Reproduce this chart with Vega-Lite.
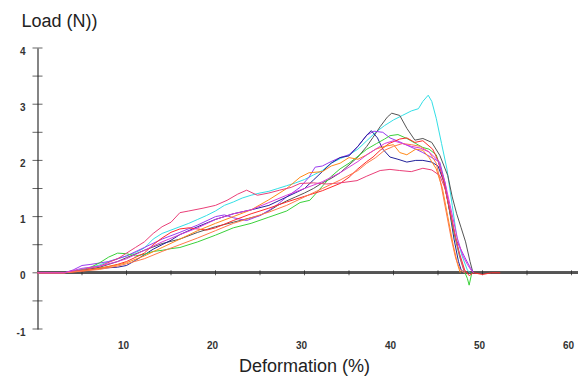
{
  "$schema": "https://vega.github.io/schema/vega-lite/v6.json",
  "autosize": {"type": "none"},
  "padding": {"left": 37.5, "top": 48, "right": 0, "bottom": 49},
  "width": 540.5,
  "height": 281,
  "background": "white",
  "config": {"view": {"stroke": null}, "font": "Liberation Sans"},
  "datasets": {
    "curves": [
      {"run":"cyan","x":0,"y":0},{"run":"cyan","x":3,"y":0},{"run":"cyan","x":4,"y":0.03},{"run":"cyan","x":5,"y":0.07},{"run":"cyan","x":6,"y":0.1},{"run":"cyan","x":7,"y":0.14},{"run":"cyan","x":8,"y":0.2},{"run":"cyan","x":9,"y":0.25},{"run":"cyan","x":10,"y":0.3},{"run":"cyan","x":11,"y":0.36},{"run":"cyan","x":12,"y":0.44},{"run":"cyan","x":13,"y":0.6},{"run":"cyan","x":14,"y":0.7},{"run":"cyan","x":15,"y":0.76},{"run":"cyan","x":16,"y":0.82},{"run":"cyan","x":17,"y":0.88},{"run":"cyan","x":18,"y":0.95},{"run":"cyan","x":19,"y":1.02},{"run":"cyan","x":20,"y":1.1},{"run":"cyan","x":21,"y":1.2},{"run":"cyan","x":22,"y":1.26},{"run":"cyan","x":23,"y":1.33},{"run":"cyan","x":24,"y":1.38},{"run":"cyan","x":25,"y":1.42},{"run":"cyan","x":26,"y":1.45},{"run":"cyan","x":27,"y":1.5},{"run":"cyan","x":28,"y":1.55},{"run":"cyan","x":29,"y":1.6},{"run":"cyan","x":30,"y":1.66},{"run":"cyan","x":31,"y":1.74},{"run":"cyan","x":32,"y":1.82},{"run":"cyan","x":33,"y":1.95},{"run":"cyan","x":34,"y":2.03},{"run":"cyan","x":35,"y":2.1},{"run":"cyan","x":36,"y":2.2},{"run":"cyan","x":37,"y":2.35},{"run":"cyan","x":38,"y":2.5},{"run":"cyan","x":39,"y":2.62},{"run":"cyan","x":40,"y":2.72},{"run":"cyan","x":41,"y":2.8},{"run":"cyan","x":42,"y":2.88},{"run":"cyan","x":42.8,"y":2.92},{"run":"cyan","x":43.3,"y":3.05},{"run":"cyan","x":43.9,"y":3.16},{"run":"cyan","x":44.3,"y":3.05},{"run":"cyan","x":44.8,"y":2.75},{"run":"cyan","x":45.4,"y":2.3},{"run":"cyan","x":46,"y":1.85},{"run":"cyan","x":46.6,"y":1.2},{"run":"cyan","x":47.1,"y":0.65},{"run":"cyan","x":47.7,"y":0.3},{"run":"cyan","x":48.3,"y":0.05},{"run":"cyan","x":48.6,"y":0},

      {"run":"gray","x":0,"y":0},{"run":"gray","x":3,"y":0},{"run":"gray","x":5,"y":0.04},{"run":"gray","x":7,"y":0.1},{"run":"gray","x":9,"y":0.2},{"run":"gray","x":10,"y":0.27},{"run":"gray","x":12,"y":0.4},{"run":"gray","x":14,"y":0.52},{"run":"gray","x":16,"y":0.6},{"run":"gray","x":18,"y":0.72},{"run":"gray","x":20,"y":0.82},{"run":"gray","x":22,"y":0.9},{"run":"gray","x":24,"y":0.98},{"run":"gray","x":25,"y":1.02},{"run":"gray","x":26,"y":1.1},{"run":"gray","x":27,"y":1.2},{"run":"gray","x":28,"y":1.28},{"run":"gray","x":29,"y":1.35},{"run":"gray","x":30,"y":1.42},{"run":"gray","x":31,"y":1.5},{"run":"gray","x":32,"y":1.6},{"run":"gray","x":33,"y":1.68},{"run":"gray","x":34,"y":1.78},{"run":"gray","x":35,"y":1.92},{"run":"gray","x":36,"y":2.06},{"run":"gray","x":37,"y":2.25},{"run":"gray","x":37.7,"y":2.41},{"run":"gray","x":38.5,"y":2.6},{"run":"gray","x":39.3,"y":2.77},{"run":"gray","x":39.8,"y":2.84},{"run":"gray","x":40.7,"y":2.8},{"run":"gray","x":41.5,"y":2.57},{"run":"gray","x":42.4,"y":2.36},{"run":"gray","x":43.3,"y":2.39},{"run":"gray","x":44.3,"y":2.32},{"run":"gray","x":45.2,"y":2.09},{"run":"gray","x":46.1,"y":1.73},{"run":"gray","x":46.6,"y":1.35},{"run":"gray","x":47.1,"y":1.05},{"run":"gray","x":47.6,"y":0.8},{"run":"gray","x":48.1,"y":0.55},{"run":"gray","x":48.6,"y":0.2},{"run":"gray","x":48.9,"y":0.02},{"run":"gray","x":49.1,"y":0},

      {"run":"violet","x":0,"y":0},{"run":"violet","x":3,"y":0},{"run":"violet","x":4,"y":0.05},{"run":"violet","x":5,"y":0.13},{"run":"violet","x":6,"y":0.15},{"run":"violet","x":8,"y":0.2},{"run":"violet","x":10,"y":0.3},{"run":"violet","x":12,"y":0.45},{"run":"violet","x":14,"y":0.6},{"run":"violet","x":16,"y":0.72},{"run":"violet","x":18,"y":0.85},{"run":"violet","x":20,"y":1.0},{"run":"violet","x":21,"y":1.03},{"run":"violet","x":22,"y":0.98},{"run":"violet","x":23.5,"y":0.93},{"run":"violet","x":25,"y":1.02},{"run":"violet","x":26,"y":1.11},{"run":"violet","x":27,"y":1.22},{"run":"violet","x":28,"y":1.35},{"run":"violet","x":29.5,"y":1.52},{"run":"violet","x":30.5,"y":1.7},{"run":"violet","x":31.2,"y":1.88},{"run":"violet","x":32,"y":1.9},{"run":"violet","x":33,"y":1.98},{"run":"violet","x":34,"y":2.05},{"run":"violet","x":35,"y":2.1},{"run":"violet","x":36,"y":2.25},{"run":"violet","x":37,"y":2.45},{"run":"violet","x":37.8,"y":2.52},{"run":"violet","x":38.8,"y":2.5},{"run":"violet","x":39.6,"y":2.4},{"run":"violet","x":40.7,"y":2.33},{"run":"violet","x":41.5,"y":2.27},{"run":"violet","x":42.5,"y":2.2},{"run":"violet","x":43.3,"y":2.14},{"run":"violet","x":44.3,"y":2.05},{"run":"violet","x":45.2,"y":1.97},{"run":"violet","x":45.8,"y":1.6},{"run":"violet","x":46.3,"y":1.1},{"run":"violet","x":47,"y":0.6},{"run":"violet","x":48,"y":0.28},{"run":"violet","x":48.6,"y":0.1},{"run":"violet","x":49,"y":0},

      {"run":"navy","x":0,"y":0},{"run":"navy","x":3,"y":0},{"run":"navy","x":5,"y":0.05},{"run":"navy","x":7,"y":0.08},{"run":"navy","x":9,"y":0.1},{"run":"navy","x":10,"y":0.13},{"run":"navy","x":11,"y":0.22},{"run":"navy","x":12,"y":0.32},{"run":"navy","x":13,"y":0.42},{"run":"navy","x":14,"y":0.5},{"run":"navy","x":15,"y":0.58},{"run":"navy","x":16,"y":0.68},{"run":"navy","x":18,"y":0.82},{"run":"navy","x":20,"y":0.95},{"run":"navy","x":22,"y":1.05},{"run":"navy","x":24,"y":1.12},{"run":"navy","x":26,"y":1.2},{"run":"navy","x":28,"y":1.35},{"run":"navy","x":30,"y":1.5},{"run":"navy","x":31,"y":1.65},{"run":"navy","x":32,"y":1.8},{"run":"navy","x":33,"y":1.95},{"run":"navy","x":34,"y":2.05},{"run":"navy","x":35,"y":2.08},{"run":"navy","x":36,"y":2.25},{"run":"navy","x":37,"y":2.45},{"run":"navy","x":37.5,"y":2.53},{"run":"navy","x":38.2,"y":2.4},{"run":"navy","x":38.8,"y":2.2},{"run":"navy","x":39.6,"y":2.06},{"run":"navy","x":40.5,"y":2.02},{"run":"navy","x":41.5,"y":1.97},{"run":"navy","x":42.5,"y":2.0},{"run":"navy","x":43.3,"y":2.0},{"run":"navy","x":44.3,"y":1.97},{"run":"navy","x":45,"y":1.9},{"run":"navy","x":45.7,"y":1.6},{"run":"navy","x":46.3,"y":1.1},{"run":"navy","x":46.8,"y":0.6},{"run":"navy","x":47.3,"y":0.2},{"run":"navy","x":47.6,"y":0.05},{"run":"navy","x":48,"y":0},

      {"run":"green","x":0,"y":0},{"run":"green","x":3,"y":0},{"run":"green","x":5,"y":0.05},{"run":"green","x":6,"y":0.1},{"run":"green","x":7,"y":0.18},{"run":"green","x":8,"y":0.28},{"run":"green","x":9,"y":0.35},{"run":"green","x":10,"y":0.34},{"run":"green","x":11,"y":0.3},{"run":"green","x":12,"y":0.33},{"run":"green","x":13,"y":0.38},{"run":"green","x":14,"y":0.4},{"run":"green","x":15,"y":0.43},{"run":"green","x":16,"y":0.45},{"run":"green","x":18,"y":0.55},{"run":"green","x":20,"y":0.67},{"run":"green","x":22,"y":0.8},{"run":"green","x":24,"y":0.88},{"run":"green","x":26,"y":0.99},{"run":"green","x":28,"y":1.1},{"run":"green","x":29.5,"y":1.25},{"run":"green","x":30.6,"y":1.29},{"run":"green","x":31.5,"y":1.45},{"run":"green","x":32.9,"y":1.7},{"run":"green","x":34,"y":1.85},{"run":"green","x":35,"y":1.95},{"run":"green","x":35.9,"y":2.06},{"run":"green","x":37,"y":2.2},{"run":"green","x":38.1,"y":2.3},{"run":"green","x":39,"y":2.38},{"run":"green","x":39.6,"y":2.44},{"run":"green","x":40.5,"y":2.46},{"run":"green","x":41.5,"y":2.39},{"run":"green","x":42.5,"y":2.3},{"run":"green","x":43.3,"y":2.23},{"run":"green","x":44,"y":2.2},{"run":"green","x":44.8,"y":2.1},{"run":"green","x":45.5,"y":1.75},{"run":"green","x":46.2,"y":1.2},{"run":"green","x":46.8,"y":0.7},{"run":"green","x":47.4,"y":0.3},{"run":"green","x":47.9,"y":0.05},{"run":"green","x":48.3,"y":-0.1},{"run":"green","x":48.5,"y":-0.22},{"run":"green","x":48.8,"y":0},

      {"run":"red","x":0,"y":0},{"run":"red","x":3,"y":0},{"run":"red","x":5,"y":0.03},{"run":"red","x":7,"y":0.08},{"run":"red","x":9,"y":0.15},{"run":"red","x":10,"y":0.2},{"run":"red","x":12,"y":0.35},{"run":"red","x":13,"y":0.5},{"run":"red","x":14,"y":0.62},{"run":"red","x":15,"y":0.72},{"run":"red","x":16,"y":0.78},{"run":"red","x":17,"y":0.8},{"run":"red","x":18,"y":0.78},{"run":"red","x":19,"y":0.76},{"run":"red","x":20,"y":0.8},{"run":"red","x":22,"y":0.93},{"run":"red","x":24,"y":1.05},{"run":"red","x":26,"y":1.15},{"run":"red","x":28,"y":1.26},{"run":"red","x":30,"y":1.36},{"run":"red","x":32,"y":1.46},{"run":"red","x":34,"y":1.59},{"run":"red","x":35,"y":1.7},{"run":"red","x":36,"y":1.85},{"run":"red","x":37,"y":1.98},{"run":"red","x":37.7,"y":2.06},{"run":"red","x":38.5,"y":2.18},{"run":"red","x":39.5,"y":2.3},{"run":"red","x":40.7,"y":2.38},{"run":"red","x":41.5,"y":2.4},{"run":"red","x":42.4,"y":2.32},{"run":"red","x":43.3,"y":2.35},{"run":"red","x":44.4,"y":2.2},{"run":"red","x":45,"y":2.0},{"run":"red","x":45.6,"y":1.65},{"run":"red","x":46.2,"y":1.2},{"run":"red","x":46.8,"y":0.75},{"run":"red","x":47.4,"y":0.35},{"run":"red","x":48,"y":0.05},{"run":"red","x":48.5,"y":-0.05},{"run":"red","x":49,"y":0},{"run":"red","x":50,"y":-0.03},{"run":"red","x":51,"y":0},{"run":"red","x":52,"y":0},

      {"run":"orange","x":0,"y":0},{"run":"orange","x":3,"y":0},{"run":"orange","x":5,"y":0.04},{"run":"orange","x":7,"y":0.08},{"run":"orange","x":9,"y":0.14},{"run":"orange","x":10,"y":0.18},{"run":"orange","x":12,"y":0.3},{"run":"orange","x":14,"y":0.45},{"run":"orange","x":16,"y":0.6},{"run":"orange","x":18,"y":0.75},{"run":"orange","x":20,"y":0.88},{"run":"orange","x":22,"y":1.0},{"run":"orange","x":24,"y":1.12},{"run":"orange","x":26,"y":1.3},{"run":"orange","x":28,"y":1.5},{"run":"orange","x":29.5,"y":1.7},{"run":"orange","x":30.5,"y":1.78},{"run":"orange","x":32,"y":1.8},{"run":"orange","x":33,"y":1.9},{"run":"orange","x":34,"y":1.95},{"run":"orange","x":35,"y":2.05},{"run":"orange","x":36,"y":2.02},{"run":"orange","x":37,"y":2.1},{"run":"orange","x":38,"y":2.2},{"run":"orange","x":39,"y":2.25},{"run":"orange","x":40,"y":2.28},{"run":"orange","x":40.7,"y":2.14},{"run":"orange","x":41.5,"y":2.1},{"run":"orange","x":42.5,"y":2.2},{"run":"orange","x":43.3,"y":2.18},{"run":"orange","x":44,"y":2.05},{"run":"orange","x":44.8,"y":1.85},{"run":"orange","x":45.5,"y":1.5},{"run":"orange","x":46.1,"y":1.0},{"run":"orange","x":46.7,"y":0.5},{"run":"orange","x":47.2,"y":0.15},{"run":"orange","x":47.5,"y":0},

      {"run":"pink","x":0,"y":0},{"run":"pink","x":3,"y":0},{"run":"pink","x":5,"y":0.05},{"run":"pink","x":7,"y":0.12},{"run":"pink","x":9,"y":0.25},{"run":"pink","x":10,"y":0.35},{"run":"pink","x":11,"y":0.45},{"run":"pink","x":12,"y":0.55},{"run":"pink","x":13,"y":0.7},{"run":"pink","x":14,"y":0.82},{"run":"pink","x":15,"y":0.9},{"run":"pink","x":16,"y":1.07},{"run":"pink","x":17,"y":1.1},{"run":"pink","x":18.6,"y":1.15},{"run":"pink","x":20,"y":1.2},{"run":"pink","x":21.3,"y":1.29},{"run":"pink","x":22.5,"y":1.4},{"run":"pink","x":23.5,"y":1.47},{"run":"pink","x":24.7,"y":1.38},{"run":"pink","x":26,"y":1.42},{"run":"pink","x":27.2,"y":1.47},{"run":"pink","x":28.5,"y":1.52},{"run":"pink","x":29.5,"y":1.59},{"run":"pink","x":31,"y":1.6},{"run":"pink","x":32.5,"y":1.58},{"run":"pink","x":34,"y":1.6},{"run":"pink","x":35.9,"y":1.64},{"run":"pink","x":37,"y":1.72},{"run":"pink","x":38.5,"y":1.82},{"run":"pink","x":39.6,"y":1.84},{"run":"pink","x":40.7,"y":1.82},{"run":"pink","x":42,"y":1.8},{"run":"pink","x":43.3,"y":1.86},{"run":"pink","x":44.3,"y":1.83},{"run":"pink","x":45.2,"y":1.73},{"run":"pink","x":45.8,"y":1.5},{"run":"pink","x":46.4,"y":1.1},{"run":"pink","x":47,"y":0.6},{"run":"pink","x":47.6,"y":0.2},{"run":"pink","x":48,"y":0},

      {"run":"salmon","x":0,"y":0},{"run":"salmon","x":3,"y":0},{"run":"salmon","x":5,"y":0.03},{"run":"salmon","x":7,"y":0.06},{"run":"salmon","x":9,"y":0.12},{"run":"salmon","x":10,"y":0.16},{"run":"salmon","x":12,"y":0.25},{"run":"salmon","x":14,"y":0.38},{"run":"salmon","x":16,"y":0.5},{"run":"salmon","x":18,"y":0.62},{"run":"salmon","x":20,"y":0.75},{"run":"salmon","x":22,"y":0.88},{"run":"salmon","x":24,"y":0.98},{"run":"salmon","x":26,"y":1.08},{"run":"salmon","x":28,"y":1.2},{"run":"salmon","x":30,"y":1.35},{"run":"salmon","x":32,"y":1.5},{"run":"salmon","x":34,"y":1.65},{"run":"salmon","x":36,"y":1.82},{"run":"salmon","x":37,"y":1.95},{"run":"salmon","x":38,"y":2.05},{"run":"salmon","x":39,"y":2.18},{"run":"salmon","x":40,"y":2.25},{"run":"salmon","x":41,"y":2.3},{"run":"salmon","x":42,"y":2.28},{"run":"salmon","x":43,"y":2.25},{"run":"salmon","x":44,"y":2.15},{"run":"salmon","x":44.8,"y":1.95},{"run":"salmon","x":45.3,"y":1.6},{"run":"salmon","x":45.9,"y":1.1},{"run":"salmon","x":46.5,"y":0.6},{"run":"salmon","x":47,"y":0.25},{"run":"salmon","x":47.5,"y":0.05},{"run":"salmon","x":48,"y":0},

      {"run":"magenta","x":0,"y":0},{"run":"magenta","x":3,"y":0},{"run":"magenta","x":5,"y":0.08},{"run":"magenta","x":7,"y":0.12},{"run":"magenta","x":9,"y":0.2},{"run":"magenta","x":10,"y":0.25},{"run":"magenta","x":12,"y":0.4},{"run":"magenta","x":14,"y":0.55},{"run":"magenta","x":16,"y":0.68},{"run":"magenta","x":18,"y":0.8},{"run":"magenta","x":20,"y":0.95},{"run":"magenta","x":22,"y":1.05},{"run":"magenta","x":24,"y":1.12},{"run":"magenta","x":26,"y":1.25},{"run":"magenta","x":28,"y":1.38},{"run":"magenta","x":30,"y":1.5},{"run":"magenta","x":32,"y":1.62},{"run":"magenta","x":34,"y":1.78},{"run":"magenta","x":36,"y":1.98},{"run":"magenta","x":37,"y":2.1},{"run":"magenta","x":38,"y":2.2},{"run":"magenta","x":39,"y":2.3},{"run":"magenta","x":40,"y":2.35},{"run":"magenta","x":41,"y":2.3},{"run":"magenta","x":42,"y":2.25},{"run":"magenta","x":43,"y":2.22},{"run":"magenta","x":44,"y":2.15},{"run":"magenta","x":45,"y":2.0},{"run":"magenta","x":45.8,"y":1.6},{"run":"magenta","x":46.5,"y":1.1},{"run":"magenta","x":47.2,"y":0.6},{"run":"magenta","x":47.8,"y":0.3},{"run":"magenta","x":48.3,"y":0.15},{"run":"magenta","x":48.7,"y":0.05},{"run":"magenta","x":49,"y":0}
    ],
    "yticks": [{"v":-1},{"v":-0.5},{"v":0},{"v":0.5},{"v":1},{"v":1.5},{"v":2},{"v":2.5},{"v":3},{"v":3.5},{"v":4}],
    "xticks": [{"v":5},{"v":10},{"v":15},{"v":20},{"v":25},{"v":30},{"v":35},{"v":40},{"v":45},{"v":50},{"v":55},{"v":60}]
  },
  "layer": [
    {
      "data": {"name": "yticks"},
      "mark": {"type": "rule", "color": "#555555", "strokeWidth": 2},
      "encoding": {
        "y": {"datum": 0, "type": "quantitative",
          "scale": {"domain": [-1, 4], "nice": false, "zero": false},
          "axis": {
            "orient": "left", "values": [-1, 0, 1, 2, 3, 4], "grid": false,
            "labelExpr": "'' + datum.value",
            "domain": true, "domainColor": "#333333", "domainWidth": 1.2,
            "ticks": false, "tickSize": 0, "labelPadding": 12.5, "labelOffset": 3,
            "labelFontSize": 10, "labelColor": "#333333", "labelFontWeight": "bold",
            "title": "Load (N))", "titleAngle": 0, "titleX": -16.5, "titleY": -22,
            "titleAlign": "left", "titleBaseline": "alphabetic", "titleFontSize": 18,
            "titleFontWeight": "normal", "titleColor": "#222222"
          }
        }
      }
    },
    {
      "data": {"name": "yticks"},
      "mark": {"type": "tick", "orient": "horizontal", "size": 10, "thickness": 1, "color": "#222222"},
      "encoding": {
        "x": {"datum": 0, "type": "quantitative"},
        "y": {"field": "v", "type": "quantitative"}
      }
    },
    {
      "data": {"name": "xticks"},
      "mark": {"type": "tick", "orient": "vertical", "size": 5, "thickness": 1, "color": "#222222"},
      "encoding": {
        "x": {"field": "v", "type": "quantitative"},
        "y": {"datum": 0, "type": "quantitative"}
      }
    },
    {
      "data": {"name": "curves"},
      "mark": {"type": "line", "strokeWidth": 1, "interpolate": "linear"},
      "encoding": {
        "x": {"field": "x", "type": "quantitative",
          "scale": {"domain": [0, 60.73], "nice": false, "zero": false},
          "axis": {
            "orient": "bottom", "values": [10, 20, 30, 40, 50, 60], "grid": false,
            "labelExpr": "'' + datum.value",
            "domain": false, "ticks": false, "tickSize": 0, "labelPadding": 11,
            "labelOffset": -3.5, "labelFontSize": 10, "labelColor": "#333333",
            "labelFontWeight": "bold",
            "title": "Deformation (%)", "titleX": 266.5, "titleY": 42,
            "titleAlign": "center", "titleBaseline": "alphabetic", "titleFontSize": 18,
            "titleFontWeight": "normal", "titleColor": "#222222"
          }
        },
        "y": {"field": "y", "type": "quantitative"},
        "color": {"field": "run", "type": "nominal", "legend": null,
          "scale": {
            "domain": ["cyan","gray","violet","navy","green","red","orange","pink","salmon","magenta"],
            "range": ["#33dfe6","#555555","#9a3df0","#22229a","#3ad13a","#ff2a2a","#ff8a1a","#ea3f78","#ff7a4a","#d93ad9"]
          }
        },
        "order": {"field": "x", "type": "quantitative"}
      }
    }
  ]
}
